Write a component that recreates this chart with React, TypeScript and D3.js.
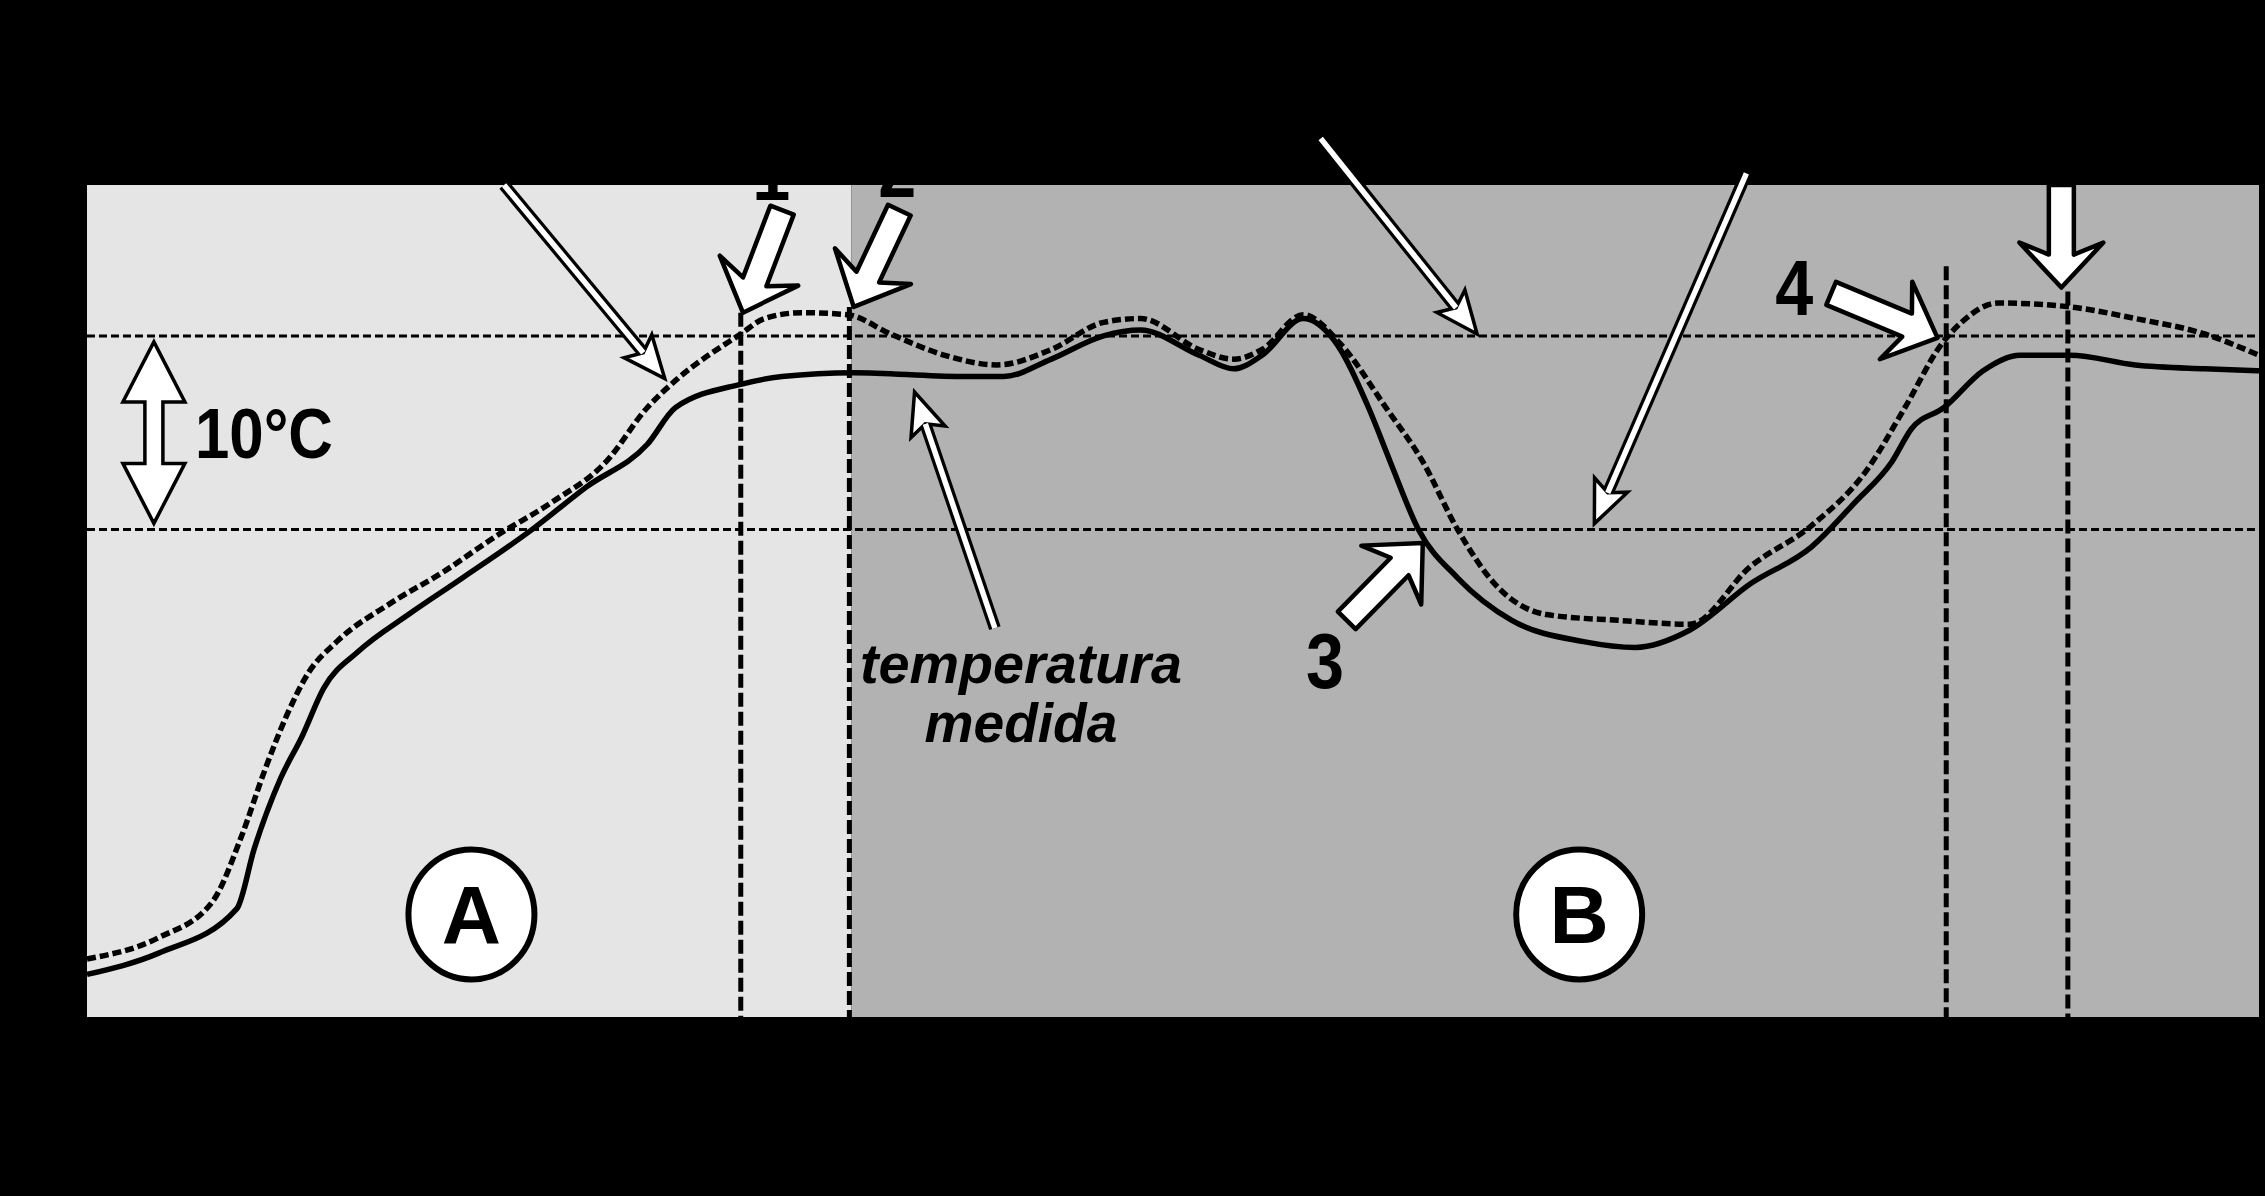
import { useMemo } from "react";
import * as d3 from "d3";

// time axis 0..100 (arbitrary units), temperature in °C
const measuredTime = [0, 3.3, 6.9, 7.7, 8.9, 9.9, 10.9, 12.5, 14.8, 17.3, 20.5, 23.0, 25.8, 27.1, 30.1, 32.0, 35.3, 40.2, 42.2, 44.4, 46.8, 48.5, 51.2, 52.8, 54.1, 56.0, 57.4, 59.0, 60.0, 61.3, 63.1, 65.6, 68.9, 71.3, 73.8, 76.6, 79.4, 81.4, 83.1, 84.0, 85.5, 87.3, 89.0, 91.3, 94.3, 97.5, 100];
const measuredTemp = [2.0, 3.1, 5.4, 8.5, 12.1, 14.3, 16.8, 18.7, 20.6, 22.5, 25.0, 27.2, 29.4, 31.3, 32.5, 32.9, 33.1, 32.9, 32.9, 33.8, 35.0, 35.3, 34.0, 33.3, 34.0, 35.9, 34.8, 31.3, 28.5, 25.0, 22.5, 20.3, 19.2, 18.9, 19.8, 22.2, 24.1, 26.4, 28.5, 30.2, 31.3, 33.2, 34.0, 34.0, 33.5, 33.3, 33.2];

const referenceTime = [0, 3.3, 5.8, 7.1, 8.2, 9.2, 10.2, 11.5, 14.0, 16.4, 18.9, 21.4, 23.9, 25.8, 27.1, 30.1, 31.2, 32.9, 35.0, 37.0, 39.5, 41.9, 44.4, 46.8, 48.5, 51.2, 52.8, 54.1, 56.0, 57.7, 59.8, 61.5, 63.1, 64.8, 67.2, 70.5, 73.8, 76.6, 79.4, 81.9, 83.7, 85.4, 86.3, 88.0, 91.3, 94.3, 97.5, 100];
const referenceTemp = [2.8, 3.9, 5.8, 9.1, 12.6, 15.4, 17.6, 19.2, 21.2, 22.8, 24.7, 26.4, 28.5, 31.3, 32.7, 35.1, 35.9, 36.2, 36.1, 35.1, 34.0, 33.5, 34.3, 35.7, 35.9, 34.3, 33.8, 34.3, 36.1, 34.6, 31.3, 28.5, 25.0, 22.2, 20.6, 20.3, 20.1, 23.1, 25.2, 28.0, 31.3, 34.6, 35.7, 36.7, 36.5, 35.9, 35.1, 34.0];

const thresholdTemps = [25, 35];
const markerTimes = [30.1, 35.1, 85.6, 91.2];
const markerTops = [36.2, 36.5, 38.6, 37.3];

const phaseLabels = ["A", "B"];
const phaseStarts = [0, 35.2];
const phaseEnds = [35.2, 100];
const phaseLabelAt = [[17.7, 5.1], [68.7, 5.1]];

const numberLabels = ["1", "2", "3", "4"];
const numberLabelAt = [[31.5, 42.0], [37.3, 42.2], [57.0, 16.8], [78.6, 36.1]];

const blockArrowTail = [[32.0, 41.5], [37.4, 41.5], [58.0, 20.3], [80.3, 37.2], [90.9, 42.8]];
const blockArrowTip = [[30.2, 36.2], [35.3, 36.5], [61.5, 24.3], [85.2, 34.9], [90.9, 37.5]];

const thinArrowTail = [[19.2, 42.8], [56.8, 45.2], [76.4, 43.4], [41.8, 19.9]];
const thinArrowTip = [[26.6, 32.8], [64.0, 35.1], [69.4, 25.3], [38.1, 32.1]];

const scaleBarTime = 3.08;
const scaleBarLabel = "10°C";
const scaleBarLabelAt = [4.97, 28.7];
const curveLabelLines = ["temperatura", "medida"];
const curveLabelAt = [[43.0, 17.06], [43.0, 14.0]];

const W = 2265;
const H = 1196;
const FONT = "'Liberation Sans', Arial, sans-serif";
const phaseFill = ["#e5e5e5", "#b2b2b2"];

type P = [number, number];

function blockArrow(tail: P, tip: P, shaftW: number, headW: number, headL: number) {
  const dx = tail[0] - tip[0];
  const dy = tail[1] - tip[1];
  const len = Math.hypot(dx, dy);
  const ux = dx / len;
  const uy = dy / len;
  const vx = -uy;
  const vy = ux;
  const pt = (u: number, v: number) => [tip[0] + ux * u + vx * v, tip[1] + uy * u + vy * v];
  const pts = [
    pt(0, 0),
    pt(headL, headW / 2),
    pt(headL - 12, shaftW / 2),
    pt(len, shaftW / 2),
    pt(len, -shaftW / 2),
    pt(headL - 12, -shaftW / 2),
    pt(headL, -headW / 2),
  ];
  return pts.map((p) => p.join(",")).join(" ");
}

function thinArrow(tail: P, tip: P, headL: number, headW: number) {
  const dx = tail[0] - tip[0];
  const dy = tail[1] - tip[1];
  const len = Math.hypot(dx, dy);
  const ux = dx / len;
  const uy = dy / len;
  const vx = -uy;
  const vy = ux;
  const base: P = [tip[0] + ux * headL * 0.8, tip[1] + uy * headL * 0.8];
  const head = [
    tip,
    [tip[0] + ux * headL + (vx * headW) / 2, tip[1] + uy * headL + (vy * headW) / 2],
    base,
    [tip[0] + ux * headL - (vx * headW) / 2, tip[1] + uy * headL - (vy * headW) / 2],
  ]
    .map((p) => p.join(","))
    .join(" ");
  return { base, head };
}

export default function App() {
  const plot = { left: 87, right: 2259, top: 185, bottom: 1017 };

  const x = useMemo(() => d3.scaleLinear().domain([0, 100]).range([plot.left, plot.right]), []);
  const y = useMemo(() => d3.scaleLinear().domain([-0.2, 42.8]).range([plot.bottom, plot.top]), []);

  const line = d3
    .line<[number, number]>()
    .x((d) => x(d[0]))
    .y((d) => y(d[1]))
    .curve(d3.curveMonotoneX);

  const measuredPath = line(measuredTime.map((t, i) => [t, measuredTemp[i]]));
  const referencePath = line(referenceTime.map((t, i) => [t, referenceTemp[i]]));

  const px = (d: number[]): P => [x(d[0]), y(d[1])];

  // 10°C double arrow
  const cx = x(scaleBarTime);
  const top = y(thresholdTemps[1]) + 6;
  const bot = y(thresholdTemps[0]) - 6;
  const hl = 60, hw = 31, sw = 9;
  const scaleBar = [
    [cx, top], [cx + hw, top + hl], [cx + sw, top + hl], [cx + sw, bot - hl], [cx + hw, bot - hl],
    [cx, bot], [cx - hw, bot - hl], [cx - sw, bot - hl], [cx - sw, top + hl], [cx - hw, top + hl],
  ].map((p) => p.join(",")).join(" ");

  return (
    <div style={{ position: "absolute", left: 0, top: 0, width: W, height: H, background: "#000", overflow: "hidden" }}>
      <svg width={W} height={H} style={{ display: "block" }} fontFamily={FONT}>
        <rect x={0} y={0} width={W} height={H} fill="#000" />

        {/* phases */}
        {phaseLabels.map((p, i) => (
          <rect
            key={p}
            x={x(phaseStarts[i])}
            y={plot.top}
            width={x(phaseEnds[i]) - x(phaseStarts[i])}
            height={plot.bottom - plot.top}
            fill={phaseFill[i]}
          />
        ))}

        {/* threshold lines */}
        {thresholdTemps.map((t) => (
          <line key={t} x1={plot.left} x2={plot.right} y1={y(t)} y2={y(t)} stroke="#000" strokeWidth={3} strokeDasharray="8,4" />
        ))}

        {/* vertical markers */}
        {markerTimes.map((t, i) => (
          <line key={t} x1={x(t)} x2={x(t)} y1={y(markerTops[i])} y2={plot.bottom} stroke="#000" strokeWidth={5} strokeDasharray="14,5" />
        ))}

        {/* curves */}
        <path d={measuredPath || ""} fill="none" stroke="#000" strokeWidth={5.5} strokeLinejoin="round" />
        <path d={referencePath || ""} fill="none" stroke="#000" strokeWidth={5.5} strokeDasharray="9,4" />

        {/* phase labels */}
        {phaseLabels.map((p, i) => {
          const [lx, ly] = px(phaseLabelAt[i]);
          return (
            <g key={p}>
              <ellipse cx={lx} cy={ly} rx={63} ry={65} fill="#fff" stroke="#000" strokeWidth={6} />
              <text x={lx} y={ly + 29} textAnchor="middle" fontSize={82} fontWeight="bold" fill="#000">
                {p}
              </text>
            </g>
          );
        })}

        {/* thin arrows */}
        {thinArrowTail.map((t, i) => {
          const tail = px(t);
          const tip = px(thinArrowTip[i]);
          const { base, head } = thinArrow(tail, tip, 42, 36);
          return (
            <g key={i}>
              <line x1={tail[0]} y1={tail[1]} x2={base[0]} y2={base[1]} stroke="#000" strokeWidth={12} />
              <polygon points={head} fill="#fff" stroke="#000" strokeWidth={3.5} strokeLinejoin="miter" />
              <line x1={tail[0]} y1={tail[1]} x2={base[0]} y2={base[1]} stroke="#fff" strokeWidth={5.5} />
            </g>
          );
        })}

        {/* block arrows */}
        {blockArrowTail.map((t, i) => (
          <polygon
            key={i}
            points={blockArrow(px(t), px(blockArrowTip[i]), 25, 84, 45)}
            fill="#fff"
            stroke="#000"
            strokeWidth={4.5}
            strokeLinejoin="round"
          />
        ))}

        {/* number labels */}
        {numberLabels.map((n, i) => {
          const [lx, ly] = px(numberLabelAt[i]);
          return (
            <text key={n} x={lx} y={ly} textAnchor="middle" fontSize={78} fontWeight="bold" fill="#000" textLength={38} lengthAdjust="spacingAndGlyphs">
              {n}
            </text>
          );
        })}

        {/* 10°C scale */}
        <polygon points={scaleBar} fill="#fff" stroke="#000" strokeWidth={3.5} />
        <text
          x={x(scaleBarLabelAt[0])}
          y={y(scaleBarLabelAt[1])}
          fontSize={71}
          fontWeight="bold"
          fill="#000"
          textLength={138}
          lengthAdjust="spacingAndGlyphs"
        >
          {scaleBarLabel}
        </text>

        {/* curve label */}
        {curveLabelLines.map((s, i) => (
          <text
            key={s}
            x={x(curveLabelAt[i][0])}
            y={y(curveLabelAt[i][1])}
            textAnchor="middle"
            fontSize={56}
            fontWeight="bold"
            fontStyle="italic"
            fill="#000"
            textLength={i === 0 ? 322 : 193}
            lengthAdjust="spacingAndGlyphs"
          >
            {s}
          </text>
        ))}
      </svg>
    </div>
  );
}
